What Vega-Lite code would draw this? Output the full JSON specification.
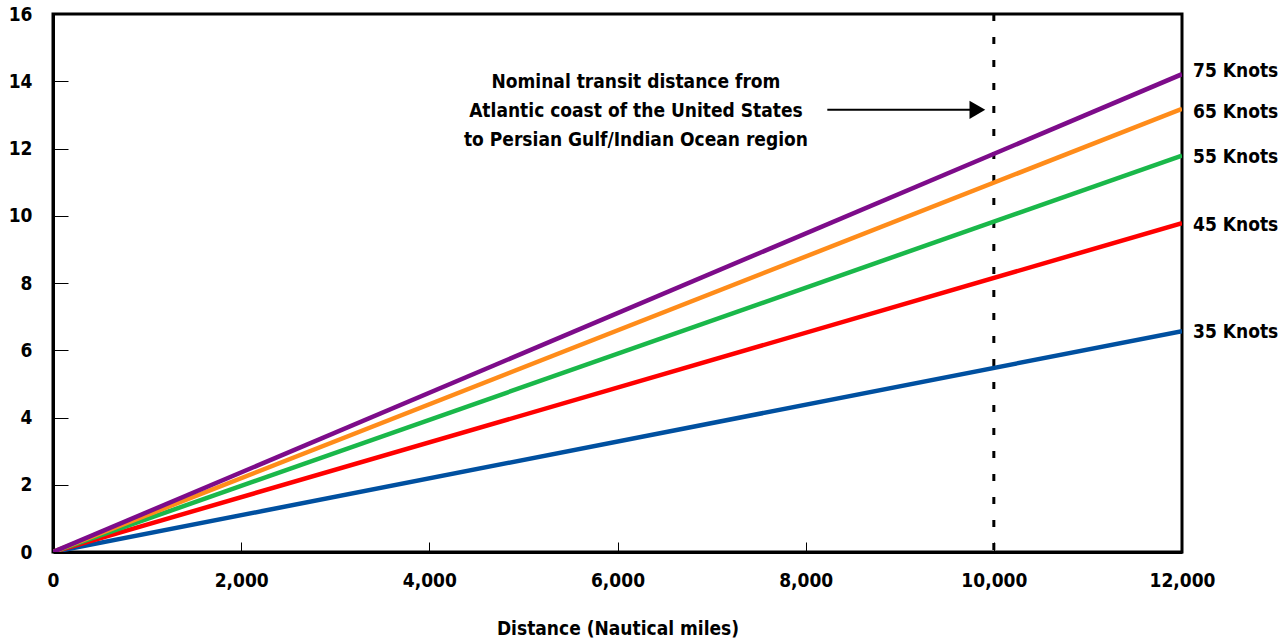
{
  "$schema": "https://vega.github.io/schema/vega-lite/v6.json",
  "width": 1129,
  "height": 538,
  "autosize": "none",
  "padding": {"left": 53, "top": 14, "right": 106, "bottom": 88},
  "background": "white",
  "config": {
    "font": "DejaVu Sans Condensed",
    "view": {"stroke": "black", "strokeWidth": 3},
    "axis": {"grid": false, "labelFlush": false, "labelFont": "DejaVu Sans Condensed", "labelFontWeight": "bold", "labelFontSize": 19, "labelColor": "black", "titleFont": "DejaVu Sans Condensed", "titleFontWeight": "bold", "titleFontSize": 19, "titleColor": "black", "domainColor": "black", "domainWidth": 3, "tickColor": "black", "tickWidth": 1}
  },
  "datasets": {
    "lines": [
      {"series": "35 Knots", "distance": 0, "value": 0},
      {"series": "35 Knots", "distance": 12000, "value": 6.57},
      {"series": "45 Knots", "distance": 0, "value": 0},
      {"series": "45 Knots", "distance": 12000, "value": 9.78},
      {"series": "55 Knots", "distance": 0, "value": 0},
      {"series": "55 Knots", "distance": 12000, "value": 11.79},
      {"series": "65 Knots", "distance": 0, "value": 0},
      {"series": "65 Knots", "distance": 12000, "value": 13.18},
      {"series": "75 Knots", "distance": 0, "value": 0},
      {"series": "75 Knots", "distance": 12000, "value": 14.21}
    ],
    "ends": [
      {"series": "35 Knots", "distance": 12000, "value": 6.55},
      {"series": "45 Knots", "distance": 12000, "value": 9.72},
      {"series": "55 Knots", "distance": 12000, "value": 11.76},
      {"series": "65 Knots", "distance": 12000, "value": 13.08},
      {"series": "75 Knots", "distance": 12000, "value": 14.3}
    ]
  },
  "layer": [
    {
      "data": {"values": [{"distance": 10000}]},
      "mark": {"type": "rule", "color": "black", "strokeWidth": 3, "strokeDash": [7, 16]},
      "encoding": {
        "x": {"field": "distance", "type": "quantitative", "scale": {"domain": [0, 12000], "nice": false}}
      }
    },
    {
      "data": {"name": "lines"},
      "mark": {"type": "line", "strokeWidth": 4.5, "clip": true},
      "encoding": {
        "x": {"field": "distance", "type": "quantitative", "scale": {"domain": [0, 12000], "nice": false},
              "axis": {"values": [0, 2000, 4000, 6000, 8000, 10000, 12000], "format": ",d", "labelFlush": false, "tickSize": -10, "labelPadding": 29, "title": "Distance (Nautical miles)", "titlePadding": 29}},
        "y": {"field": "value", "type": "quantitative", "scale": {"domain": [0, 16], "nice": false},
              "axis": {"values": [0, 2, 4, 6, 8, 10, 12, 14, 16], "labelFlush": false, "tickSize": -15, "labelPadding": 36, "title": null}},
        "color": {"field": "series", "type": "nominal",
                  "scale": {"domain": ["35 Knots", "45 Knots", "55 Knots", "65 Knots", "75 Knots"], "range": ["#0050a0", "#ff0000", "#1ab84a", "#ff8c1a", "#7d0c8a"]},
                  "legend": null}
      }
    },
    {
      "data": {"name": "ends"},
      "mark": {"type": "text", "align": "left", "baseline": "middle", "dx": 11, "fontSize": 19, "fontWeight": "bold", "color": "black"},
      "encoding": {
        "x": {"field": "distance", "type": "quantitative"},
        "y": {"field": "value", "type": "quantitative"},
        "text": {"field": "series"}
      }
    },
    {
      "data": {"values": [{"x1": 8230, "x2": 9750, "y": 13.15}]},
      "mark": {"type": "rule", "color": "black", "strokeWidth": 2},
      "encoding": {
        "x": {"field": "x1", "type": "quantitative"},
        "x2": {"field": "x2"},
        "y": {"field": "y", "type": "quantitative"}
      }
    },
    {
      "data": {"values": [{"x": 9825, "y": 13.15}]},
      "mark": {"type": "point", "shape": "triangle-right", "filled": true, "color": "black", "opacity": 1, "size": 330},
      "encoding": {
        "x": {"field": "x", "type": "quantitative"},
        "y": {"field": "y", "type": "quantitative"}
      }
    },
    {
      "data": {"values": [{"x": 6196, "y": 13.97, "label": "Nominal transit distance from\nAtlantic coast of the United States\nto Persian Gulf/Indian Ocean region"}]},
      "mark": {"type": "text", "align": "center", "baseline": "middle", "lineBreak": "\n", "lineHeight": 29, "fontSize": 19, "fontWeight": "bold", "color": "black"},
      "encoding": {
        "x": {"field": "x", "type": "quantitative"},
        "y": {"field": "y", "type": "quantitative"},
        "text": {"field": "label"}
      }
    }
  ]
}
